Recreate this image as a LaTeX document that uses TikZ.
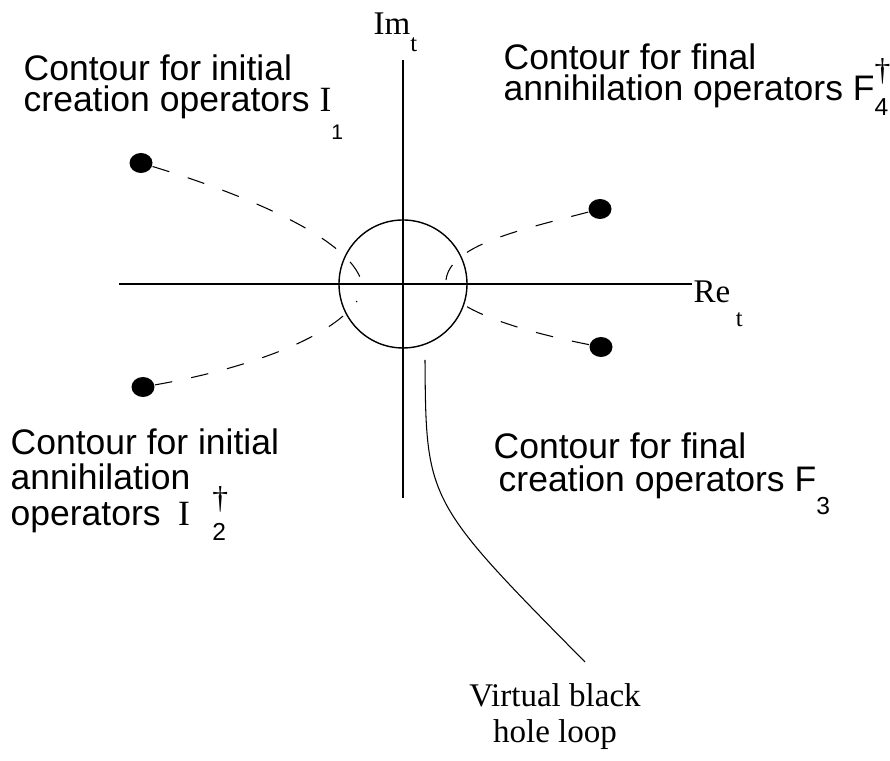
\documentclass[tikz,border=0pt]{standalone}
\usepackage{fontspec}
\setmainfont{Liberation Serif}
\setsansfont{Liberation Sans}
\usetikzlibrary{shapes.geometric}

% lowered index and stacked index/dagger
\newcommand{\lowsub}[3][14]{\raisebox{-#2}{\fontsize{#1}{#1}\selectfont #3}}
\newcommand{\opindex}[4]{\rlap{\raisebox{#2}{\fontsize{18}{18}\selectfont\rmfamily #4}}\lowsub{#1}{#3}}
\newcommand{\sidefont}[1]{\sffamily\fontsize{20.2}{#1}\selectfont\setlength{\lineskiplimit}{-100pt}}

\tikzset{
  pole/.style={ellipse, fill=black, inner sep=0pt, minimum width=0.46cm, minimum height=0.4cm},
  contour/.style={line width=0.6pt, dash pattern=on 10pt off 11pt},
  sidetext/.style={anchor=north west, inner sep=0pt, align=left},
  axistext/.style={anchor=base west, inner sep=0pt, font=\rmfamily\fontsize{18.8}{20}\selectfont},
}

\begin{document}
\begin{tikzpicture}[line width=0.8pt]
\useasboundingbox (0,0) rectangle (17.8,15.22);

% Axes of the complex t plane
\coordinate (re left) at (2.38,9.54);
\coordinate (re right) at (13.84,9.54);
\coordinate (im top) at (8.06,14.02);
\coordinate (im bottom) at (8.06,5.26);
\draw (re left) -- (re right);
\draw (im bottom) -- (im top);
\node[axistext] (imt) at (7.46,14.52) {Im\lowsub{0.34cm}{t}};
\node[axistext] (ret) at (13.86,9.16) {Re\,\lowsub{0.48cm}{t}};

% The loop round the origin
\node[circle, draw, minimum size=2.56cm, inner sep=0pt] (bhloop) at (8.06,9.54) {};

% Operator insertions
\node[pole] (i1) at (2.82,11.96) {};
\node[pole] (f4) at (12.00,11.04) {};
\node[pole] (f3) at (12.02,8.28) {};
\node[pole] (i2) at (2.86,7.48) {};

% Contours running in to the loop
\coordinate (i1 end) at (7.24,9.56);
\coordinate (f4 end) at (8.92,9.62);
\coordinate (f3 end) at (9.04,9.30);
\coordinate (i2 end) at (7.14,9.20);
\draw[contour] (i1) .. controls (4.60,11.42) and (7.00,10.52) .. (i1 end);
\draw[contour] (f4) .. controls (10.40,10.62) and (9.00,10.32) .. (f4 end);
\draw[contour] (f3) .. controls (10.80,8.52) and (9.50,8.86) .. (f3 end);
\draw[contour] (i2) .. controls (4.80,7.82) and (6.60,8.42) .. (i2 end);

% Labels
\node[sidetext, font=\sidefont{17.6}] (i1text) at (0.46,14.14)
  {Contour for initial\\creation operators {\rmfamily I}\lowsub[12]{0.56cm}{1}};
\node[sidetext, font=\sidefont{17.6}] (f4text) at (10.06,14.36)
  {Contour for final\\annihilation operators F\opindex{0.3cm}{0.4cm}{4}{†}};
\node[sidetext, font=\sidefont{18.8}] (f3text) at (9.86,6.58)
  {Contour for final\\\hspace*{0.1cm}creation operators F\lowsub{0.46cm}{3}};
\node[sidetext, font=\sidefont{20.2}] (i2text) at (0.20,6.66)
  {Contour for initial\\annihilation\\operators \hspace*{0.15cm}{\rmfamily I}\hspace*{0.45cm}\opindex{0.3cm}{0.34cm}{2}{†}};

% Pointer to the loop
\node[anchor=north, inner sep=0pt, align=center, font=\rmfamily\fontsize{18.8}{20.5}\selectfont] (vbh) at (11.10,1.56)
  {Virtual black\\hole loop};
\coordinate (tail top) at (8.50,8.02);
\coordinate (tail end) at (11.70,1.98);
\draw[line width=0.6pt] (tail top) .. controls (8.52,5.20) .. (tail end);
\end{tikzpicture}
\end{document}
